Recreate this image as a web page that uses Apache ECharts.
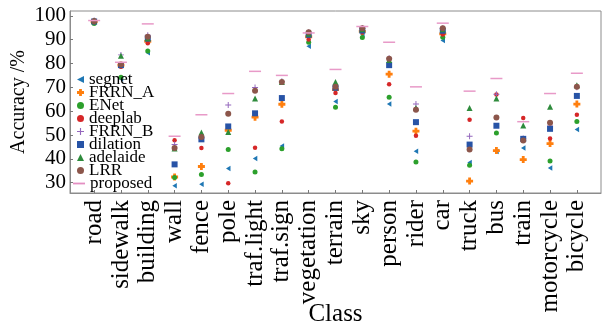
<!DOCTYPE html>
<html><head><meta charset="utf-8">
<script src="https://cdn.jsdelivr.net/npm/echarts@6/dist/echarts.min.js"></script>
<style>html,body{margin:0;padding:0;background:#fff}#c{width:612px;height:326px}</style>
</head><body><div id="c"></div>
<script>
const categories = ['road','sidewalk','building','wall','fence','pole','traf.light','traf.sign','vegetation','terrain','sky','person','rider','car','truck','bus','train','motorcycle','bicycle'];
const yTicks = [30,40,50,60,70,80,90,100];
const segnet   = [97.3,73.5,84.5,28.7,29.4,36.0,40.2,45.4,87.2,64.1,92.0,63.0,43.2,89.6,38.5,43.1,44.6,36.2,52.3];
const FRRN_A   = [97.6,79.3,89.3,32.4,36.8,52.0,57.5,62.9,91.2,69.0,93.5,75.5,51.6,92.4,30.7,43.5,39.7,46.4,63.0];
const ENet     = [96.8,74.2,85.2,32.2,33.5,43.9,34.5,44.3,88.9,61.7,90.9,65.8,38.7,91.0,37.3,50.9,48.1,39.1,55.7];
const deeplab  = [97.3,78.6,88.5,47.8,44.6,29.8,44.7,55.7,90.0,67.6,93.0,71.3,49.7,92.2,56.4,67.0,57.1,48.5,58.5];
const FRRN_B   = [98.0,83.6,91.8,46.0,48.8,62.6,69.9,72.5,93.1,70.5,94.9,82.2,63.0,94.8,49.5,67.1,48.5,53.8,70.0];
const dilation = [97.6,79.3,90.4,37.7,48.2,53.6,59.1,65.5,92.0,69.8,93.8,79.3,55.4,93.7,46.0,53.9,48.4,52.6,66.4];
const adelaide = [97.9,83.2,90.6,44.4,51.1,51.3,65.3,72.2,92.5,72.2,94.3,81.5,61.3,94.3,61.3,65.3,54.0,61.9,70.9];
const LRR      = [97.7,79.6,91.2,44.6,49.2,58.9,68.6,72.2,93.1,70.2,94.8,82.0,60.6,94.8,43.9,57.3,47.7,55.1,70.2];
const proposed = [98.0,80.5,96.6,49.5,58.5,67.4,76.7,75.0,92.8,77.5,95.5,88.9,70.2,96.9,68.4,73.7,55.6,67.4,75.9];

const FONT = '"Liberation Serif", "Times New Roman", serif';
const pts = arr => arr.map((v,i)=>[i+1,v]);
const triLeft = 'path://M10,0L10,10L0,5Z';
const plusFat = 'path://M3,0H7V3H10V7H7V10H3V7H0V3H3Z';
const plusThin = 'path://M4.2,0H5.8V4.2H10V5.8H5.8V10H4.2V5.8H0V4.2H4.2Z';
const dash = 'path://M0,0H20V3H0Z';

const defs = [
  {name:'segnet', data:segnet, symbol:triLeft, size:[4.5,5.5], color:'#1f77b4'},
  {name:'FRRN_A', data:FRRN_A, symbol:plusFat, size:7, color:'#ff7f0e'},
  {name:'ENet', data:ENet, symbol:'circle', size:5, color:'#2ca02c'},
  {name:'deeplab', data:deeplab, symbol:'circle', size:4.5, color:'#d62728'},
  {name:'FRRN_B', data:FRRN_B, symbol:plusThin, size:6, color:'#9467bd'},
  {name:'dilation', data:dilation, symbol:'rect', size:6, color:'#2753a6'},
  {name:'adelaide', data:adelaide, symbol:'triangle', size:6, color:'#2e8b3c'},
  {name:'LRR', data:LRR, symbol:'circle', size:6, color:'#8c564b'},
  {name:'proposed', data:proposed, symbol:'rect', size:[12,1.5], color:'#e89ac8'}
];

const series = defs.map(d=>({
  name:d.name, type:'scatter', data:pts(d.data), symbol:d.symbol,
  symbolSize:d.size,
  itemStyle:{color:d.color, opacity:1}, silent:true, z:2
}));

const markerDefs = defs.filter(d=>d.name!=='proposed');
const legendText = {fontFamily:FONT, fontSize:17, color:'#000'};

const chart = echarts.init(document.getElementById('c'), null, {renderer:'canvas'});
chart.setOption({
  animation:false,
  backgroundColor:'#fff',
  grid:{left:70, right:11, top:11, bottom:133, containLabel:false, outerBoundsMode:'none',
        show:true, borderColor:'#8c8c8c', borderWidth:1},
  legend:[{
    orient:'vertical', left:77, top:71, padding:0, itemGap:-4,
    itemWidth:7, itemHeight:7, selectedMode:false,
    textStyle:legendText,
    data:markerDefs.map(d=>({name:d.name, icon:d.symbol, itemStyle:{color:d.color}}))
  },{
    orient:'vertical', left:73, top:175, padding:0, itemGap:0,
    itemWidth:12, itemHeight:6, selectedMode:false,
    textStyle:legendText,
    data:[{name:'proposed', icon:dash, itemStyle:{color:'#e48fc2'}}]
  }],
  xAxis:{
    type:'value', min:0.1, max:19.9,
    name:'Class', nameLocation:'middle', nameGap:109, nameMoveOverlap:false,
    nameTextStyle:{fontFamily:FONT, fontSize:25, color:'#000'},
    axisLine:{show:true, lineStyle:{color:'#8c8c8c'}},
    axisTick:{show:true, inside:true, length:3, customValues:categories.map((c,i)=>i+1), lineStyle:{color:'#777'}},
    splitLine:{show:false},
    axisLabel:{
      customValues:categories.map((c,i)=>i+1),
      formatter:v=>categories[Math.round(v)-1]||'',
      rotate:90, margin:7, fontFamily:FONT, fontSize:25, color:'#000', hideOverlap:false
    }
  },
  yAxis:{
    type:'value', min:25.7, max:102,
    name:'Accuracy /%', nameLocation:'middle', nameGap:41, nameMoveOverlap:false,
    nameTextStyle:{fontFamily:FONT, fontSize:20, color:'#000'},
    axisLine:{show:true, lineStyle:{color:'#8c8c8c'}},
    axisTick:{show:true, inside:true, length:3, customValues:yTicks, lineStyle:{color:'#777'}},
    splitLine:{show:false},
    axisLabel:{customValues:yTicks, margin:4, fontFamily:FONT, fontSize:21, color:'#000', hideOverlap:false}
  },
  series:series
});
</script></body></html>
